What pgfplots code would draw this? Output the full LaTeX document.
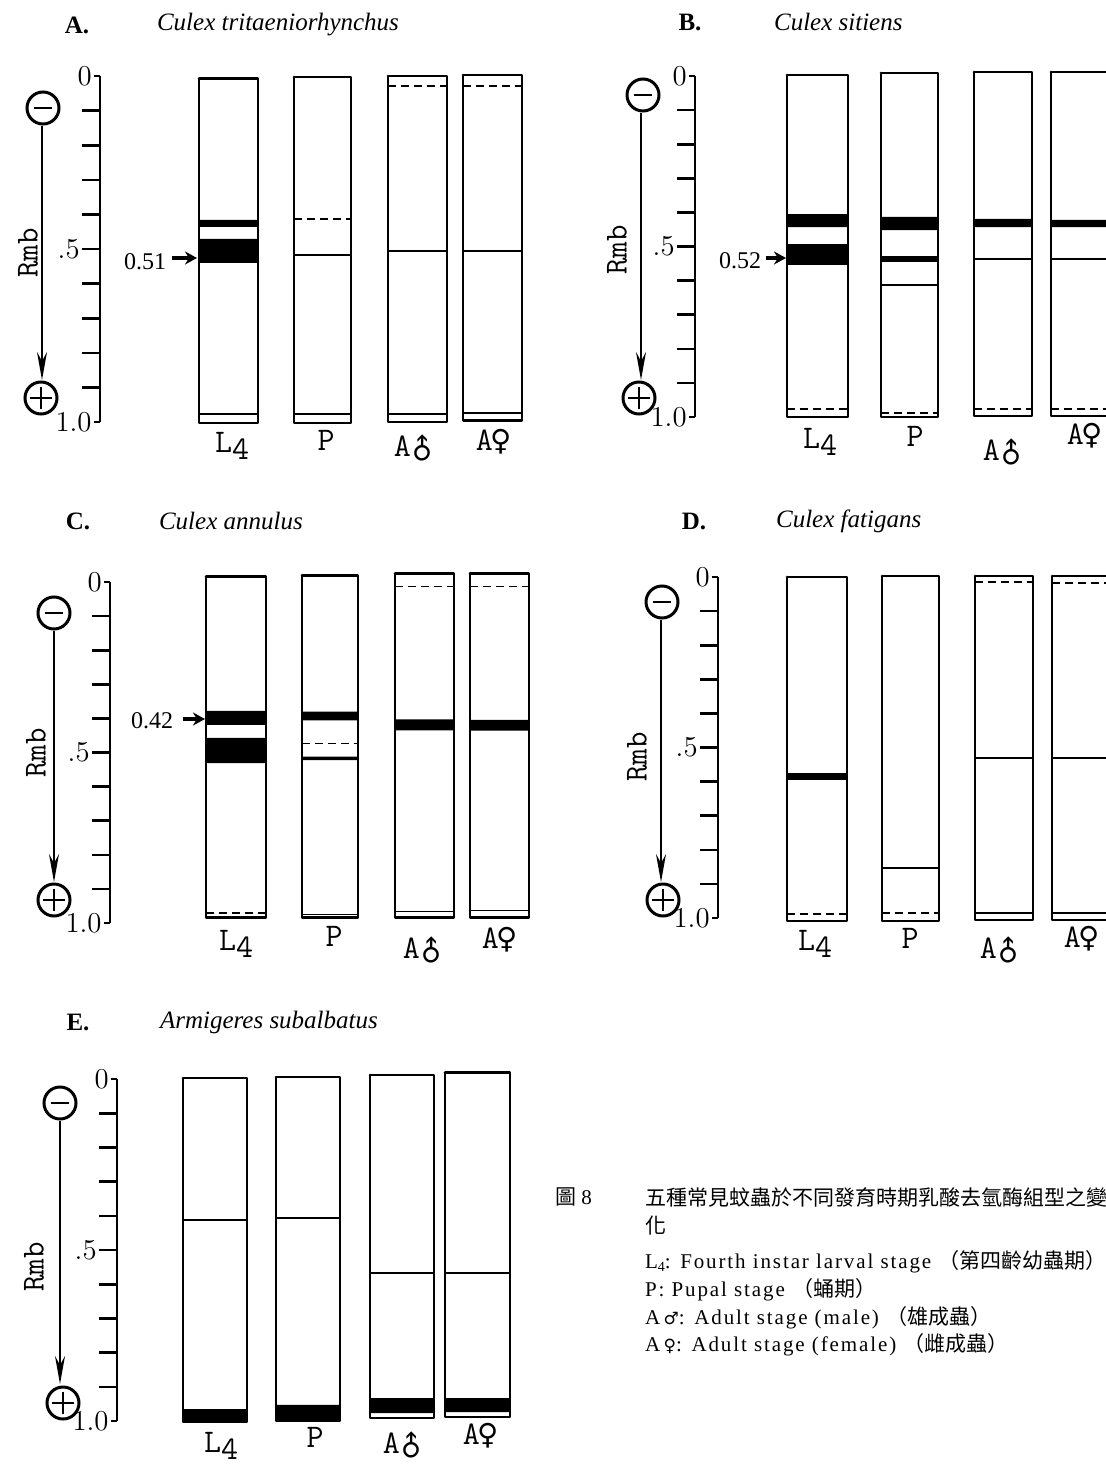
\documentclass[border=0pt]{standalone}
\usepackage{fontspec}
\usepackage{graphicx}
\usepackage{pgfplots}
\pgfplotsset{compat=1.18}
\usetikzlibrary{arrows.meta}
\setmainfont{Liberation Serif}
\newfontfamily\sym{DejaVu Sans}
\newfontfamily\cjk{Noto Sans CJK TC}
\newfontfamily\capfont[LetterSpace=9]{Liberation Serif}

\pgfplotsset{
 gel/.style={scale only axis, clip=false, ymin=0, ymax=1, y dir=reverse,
  axis x line=none, axis y line=left,
  axis line style={-, line width=1.4pt, black},
  ytick={0.1,0.2,0.3,0.4,0.5,0.6,0.7,0.8,0.9},
  yticklabels={,,,,$.5$,,,,},
  extra y ticks={0,1}, extra y tick labels={$0$,$1.0$},
  extra y tick style={major tick length=3pt},
  tick align=outside, major tick length=9pt,
  ytick style={line width=1.3pt, black},
  yticklabel style={font=\fontsize{15}{15}\selectfont, inner sep=1pt},
  anchor=north west},
 lanebox/.style={black, line width=1.4pt, line join=round, line cap=round},
 bandfill/.style={fill=black, draw=none},
 thinband/.style={black, line width=0.8pt},
 dashband/.style={black, line width=0.8pt, dash pattern=on 4pt off 2.5pt},
}
% lane: xl xr top bottom
\newcommand{\lane}[4]{\addplot[lanebox] coordinates {(#1,#3) (#2,#3) (#2,#4) (#1,#4) (#1,#3)};}
\newcommand{\band}[4]{\addplot[bandfill] coordinates {(#1,#3) (#2,#3) (#2,#4) (#1,#4) (#1,#3)};}
\newcommand{\thinb}[3]{\addplot[thinband] coordinates {(#1,#3) (#2,#3)};}
\newcommand{\dashb}[3]{\addplot[dashband] coordinates {(#1,#3) (#2,#3)};}

\newcommand\titlesize{\fontsize{12.5}{12.5}\selectfont}
\newcommand\lanefont{\ttfamily\fontsize{16.5}{16.5}\selectfont}
\newcommand\Lf{{\lanefont L\raisebox{-0.55ex}{4}}}
\newcommand\Pf{{\lanefont P}}
\newcommand\Am{{\lanefont A\hspace{-2.5pt}\smash{\raisebox{-0.25ex}{\rotatebox[origin=c]{45}{\sym\fontsize{14}{14}\selectfont ♂}}}}}
\newcommand\Af{{\lanefont A\hspace{-1pt}{\sym\fontsize{14.5}{14.5}\selectfont ♀}}}
\newcommand\minusel[2]{\draw[line width=1.5pt] (#1,#2) circle[radius=8pt]; \draw[line width=1.3pt] (#1-9,#2) -- (#1+9,#2);}
\newcommand\plusel[2]{\draw[line width=1.5pt] (#1,#2) circle[radius=8pt]; \draw[line width=1.3pt] (#1-11,#2) -- (#1+11,#2) (#1,#2-11) -- (#1,#2+11);}
\newcommand\elarrow[3]{\draw[line width=0.9pt, -{Stealth[length=14pt,width=5pt]}] (#1,#2) -- (#1,#3);}
\newcommand\rmb[2]{\node[rotate=90, font=\ttfamily\fontsize{16}{16}\selectfont] at (#1,#2) {Rmb};}
\newcommand\lab[3]{\node[anchor=base, inner sep=0pt] at (#1,#2) {#3};}

\begin{document}
\begin{tikzpicture}
\useasboundingbox (0,0) rectangle (553pt,-733pt);
\clip (0,0) rectangle (553pt,-733pt);

% ---------------- A ----------------
\begin{axis}[gel, xmin=100, xmax=530, width=215pt, height=173pt, at={(50pt,-38pt)}]
\band{199}{258}{0.416}{0.436}
\band{199}{258}{0.471}{0.540}
\thinb{199}{258}{0.977}
\dashb{294}{351}{0.413}
\thinb{294}{351}{0.517}
\thinb{294}{351}{0.977}
\dashb{388}{447}{0.029}
\thinb{388}{447}{0.506}
\thinb{388}{447}{0.977}
\dashb{463}{522}{0.029}
\thinb{463}{522}{0.506}
\thinb{463}{522}{0.974}
\lane{199}{258}{0.008}{1.003}
\lane{294}{351}{0.003}{1.003}
\lane{388}{447}{0.0}{1.0}
\lane{463}{522}{-0.003}{0.995}
\end{axis}

% ---------------- B ----------------
\begin{axis}[gel, xmin=695, xmax=1120, width=212.5pt, height=170.5pt, at={(347.5pt,-38pt)}]
\band{787}{848}{0.405}{0.443}
\band{787}{848}{0.493}{0.554}
\dashb{787}{848}{0.977}
\band{881}{938}{0.413}{0.452}
\band{881}{938}{0.528}{0.545}
\thinb{881}{938}{0.613}
\dashb{881}{938}{0.988}
\band{974}{1032}{0.419}{0.443}
\thinb{974}{1032}{0.537}
\dashb{974}{1032}{0.977}
\band{1051}{1112}{0.422}{0.443}
\thinb{1051}{1112}{0.537}
\dashb{1051}{1112}{0.977}
\lane{787}{848}{-0.003}{1.0}
\lane{881}{938}{-0.009}{1.0}
\lane{974}{1032}{-0.012}{0.997}
\lane{1051}{1112}{-0.012}{0.997}
\end{axis}

% ---------------- C ----------------
\begin{axis}[gel, xmin=110, xmax=540, width=215pt, height=170.5pt, at={(55pt,-291pt)}]
\band{206}{266}{0.378}{0.419}
\band{206}{266}{0.457}{0.531}
\dashb{206}{266}{0.971}
\band{302}{358}{0.380}{0.406}
\dashb{302}{358}{0.474}
\band{302}{358}{0.512}{0.522}
\thinb{302}{358}{0.975}
\dashb{395}{454}{0.013}
\band{395}{454}{0.403}{0.435}
\thinb{395}{454}{0.966}
\dashb{470}{529}{0.013}
\band{470}{529}{0.404}{0.436}
\thinb{470}{529}{0.963}
\lane{206}{266}{-0.015}{0.985}
\lane{302}{358}{-0.02}{0.985}
\lane{395}{454}{-0.025}{0.985}
\lane{470}{529}{-0.026}{0.985}
\end{axis}

% ---------------- D ----------------
\begin{axis}[gel, xmin=718, xmax=1120, width=201pt, height=170.5pt, at={(359pt,-288.5pt)}]
\band{787}{847}{0.575}{0.595}
\dashb{787}{847}{0.988}
\thinb{882}{939}{0.853}
\dashb{882}{939}{0.985}
\dashb{975}{1033}{0.015}
\thinb{975}{1033}{0.531}
\thinb{975}{1033}{0.985}
\dashb{1052}{1112}{0.017}
\thinb{1052}{1112}{0.531}
\thinb{1052}{1112}{0.985}
\lane{787}{847}{0.0}{1.009}
\lane{882}{939}{-0.003}{1.009}
\lane{975}{1033}{-0.003}{1.006}
\lane{1052}{1112}{-0.003}{1.006}
\end{axis}

% ---------------- E ----------------
\begin{axis}[gel, xmin=117, xmax=520, width=201.5pt, height=171pt, at={(58.5pt,-539.5pt)}]
\thinb{183}{247}{0.412}
\band{183}{247}{0.965}{1.003}
\thinb{276}{340}{0.407}
\band{276}{340}{0.953}{1.0}
\thinb{370}{434}{0.568}
\band{370}{434}{0.933}{0.977}
\thinb{445}{510}{0.567}
\band{445}{510}{0.933}{0.974}
\lane{183}{247}{-0.003}{1.003}
\lane{276}{340}{-0.006}{1.0}
\lane{370}{434}{-0.012}{0.991}
\lane{445}{510}{-0.018}{0.988}
\end{axis}

% ---------------- annotations ----------------
\begin{scope}[x=0.5pt,y=-0.5pt]
% A
\node[font=\titlesize\bfseries] at (77,25) {A.};
\node[anchor=west, font=\titlesize\itshape] at (150,25) {Culex tritaeniorhynchus};
\rmb{28}{253}
\minusel{43}{108}
\plusel{41}{398}
\elarrow{42}{126}{380}
\node[font=\fontsize{12}{12}\selectfont] at (145,262) {0.51};
\draw[line width=1.6pt,-{Stealth[length=6pt,width=6.5pt]}] (172,258) -- (197,258);
\lab{232}{452}{\Lf}
\lab{326}{450}{\Pf}
\lab{416}{456}{\Am}
\lab{494}{450}{\Af}
% B
\node[font=\titlesize\bfseries] at (690,22) {B.};
\node[anchor=west, font=\titlesize\itshape] at (767,22) {Culex sitiens};
\rmb{617}{250}
\minusel{643}{95}
\plusel{639}{398}
\elarrow{641}{113}{380}
\node[font=\fontsize{12}{12}\selectfont] at (740,261) {0.52};
\draw[line width=1.6pt,-{Stealth[length=6pt,width=6.5pt]}] (766,258) -- (786,258);
\lab{820}{448}{\Lf}
\lab{915}{446}{\Pf}
\lab{1005}{460}{\Am}
\lab{1085}{444}{\Af}
% C
\node[font=\titlesize\bfseries] at (78,521) {C.};
\node[anchor=west, font=\titlesize\itshape] at (152,521) {Culex annulus};
\rmb{36}{753}
\minusel{54}{613}
\plusel{54}{900}
\elarrow{54}{631}{882}
\node[font=\fontsize{12}{12}\selectfont] at (152,721) {0.42};
\draw[line width=1.6pt,-{Stealth[length=6pt,width=6.5pt]}] (183,719) -- (205,719);
\lab{236}{950}{\Lf}
\lab{334}{946}{\Pf}
\lab{425}{958}{\Am}
\lab{500}{948}{\Af}
% D
\node[font=\titlesize\bfseries] at (694,521) {D.};
\node[anchor=west, font=\titlesize\itshape] at (769,521) {Culex fatigans};
\rmb{637}{757}
\minusel{662}{602}
\plusel{663}{900}
\elarrow{661}{620}{882}
\lab{815}{950}{\Lf}
\lab{910}{948}{\Pf}
\lab{1002}{958}{\Am}
\lab{1082}{947}{\Af}
% E
\node[font=\titlesize\bfseries] at (78,1022) {E.};
\node[anchor=west, font=\titlesize\itshape] at (153,1022) {Armigeres subalbatus};
\rmb{34}{1267}
\minusel{60}{1103}
\plusel{63}{1403}
\elarrow{60}{1121}{1384}
\lab{221}{1452}{\Lf}
\lab{315}{1447}{\Pf}
\lab{405}{1453}{\Am}
\lab{481}{1444}{\Af}
% caption
\node[anchor=west, font=\fontsize{10.5}{10.5}\selectfont] at (548,1197) {{\cjk 圖} 8};
\node[anchor=west, font=\cjk\fontsize{10.5}{10.5}\selectfont] at (638,1197) {五種常見蚊蟲於不同發育時期乳酸去氫酶組型之變};
\node[anchor=west, font=\cjk\fontsize{10.5}{10.5}\selectfont] at (638,1226) {化};
\node[anchor=west, font=\capfont\fontsize{10.5}{10.5}\selectfont] at (638,1262) {L\raisebox{-0.3ex}{\fontsize{7}{7}\selectfont 4}: Fourth instar larval stage {\cjk （第四齡幼蟲期）}};
\node[anchor=west, font=\capfont\fontsize{10.5}{10.5}\selectfont] at (638,1290) {P: Pupal stage {\cjk （蛹期）}};
\node[anchor=west, font=\capfont\fontsize{10.5}{10.5}\selectfont] at (638,1318) {A\,{\sym\fontsize{8.5}{8.5}\selectfont ♂}: Adult stage (male) {\cjk （雄成蟲）}};
\node[anchor=west, font=\capfont\fontsize{10.5}{10.5}\selectfont] at (638,1345) {A\,{\sym\fontsize{8.5}{8.5}\selectfont ♀}: Adult stage (female) {\cjk （雌成蟲）}};
\end{scope}
\end{tikzpicture}
\end{document}
